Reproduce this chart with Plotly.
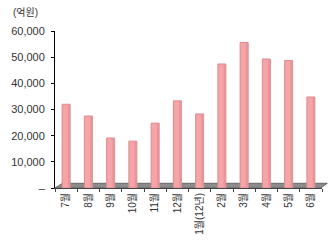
import plotly.graph_objects as go

months = ["7월", "8월", "9월", "10월", "11월", "12월", "1월(12년)", "2월", "3월", "4월", "5월", "6월"]
values = [32000, 27500, 19100, 17900, 24800, 33300, 28300, 47400, 55600, 49300, 48700, 34800]
y_ticks = [0, 10000, 20000, 30000, 40000, 50000, 60000]
y_labels = ["–", "10,000", "20,000", "30,000", "40,000", "50,000", "60,000"]
unit_label = "(억원)"

FONT = "Liberation Sans, Noto Sans CJK KR, sans-serif"

fig = go.Figure()
fig.add_trace(go.Bar(
    x=months, y=values,
    marker=dict(color="#F5A4A7", line=dict(color="#DC8C90", width=1)),
    width=0.36,
))
# darker right-side shading for cylinder look
fig.add_trace(go.Bar(
    x=months, y=values,
    marker=dict(color="#E8959A", line=dict(width=0)),
    width=0.1, offset=0.08,
))

fig.update_layout(
    width=332, height=248,
    margin=dict(l=55, r=10, t=31, b=60),
    paper_bgcolor="white", plot_bgcolor="white",
    showlegend=False, barmode="overlay",
    font=dict(family=FONT, size=11, color="#333333"),
    annotations=[dict(text=unit_label, xref="paper", yref="paper", x=-0.165, y=1.115,
                      xanchor="left", yanchor="middle", showarrow=False,
                      font=dict(size=10, color="#333333"))],
    shapes=[
        # 3D floor
        dict(type="path", xref="paper", yref="paper",
             path="M 0 0 L 0.028 0.03 L 1.02 0.03 L 0.995 0 Z",
             fillcolor="#8C8C8C", line=dict(color="#555555", width=0.8), layer="below"),
    ],
)
fig.update_yaxes(
    range=[0, 60000], tickvals=y_ticks, ticktext=y_labels,
    showline=True, linecolor="#000000", linewidth=1,
    ticks="outside", ticklen=3, tickcolor="#000000",
    showgrid=False, zeroline=False, ticklabelstandoff=4,
    tickfont=dict(size=11, color="#333333"),
)
fig.update_xaxes(
    type="category", tickangle=-90,
    showline=True, linecolor="#444444", linewidth=1,
    ticks="outside", ticklen=3, tickcolor="#444444", tickson="boundaries",
    showgrid=False, tickfont=dict(size=10, color="#333333"),
)

fig.write_html("out.html")
